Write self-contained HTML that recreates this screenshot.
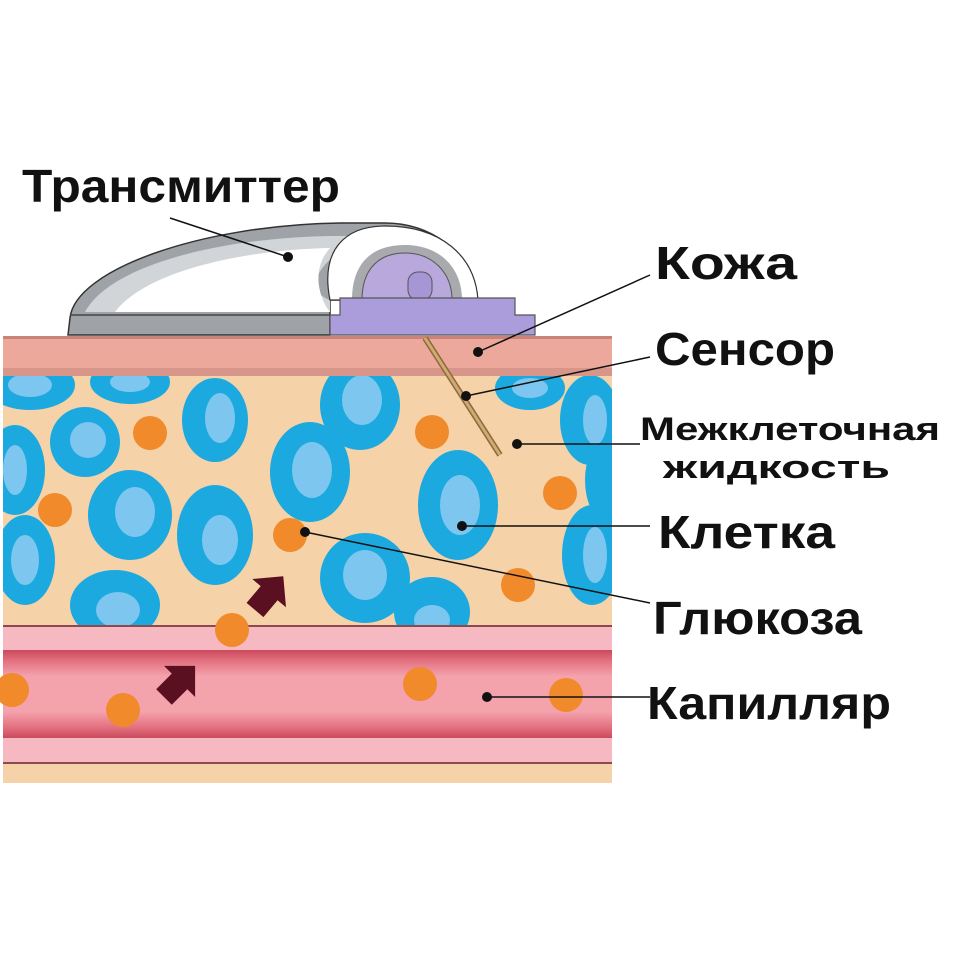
<!DOCTYPE html>
<html><head><meta charset="utf-8"><style>
body{margin:0;background:#fff;width:960px;height:960px;overflow:hidden}
svg{display:block}
text{font-family:"Liberation Sans",sans-serif;font-weight:bold;fill:#111}
</style></head><body>
<svg width="960" height="960" viewBox="0 0 960 960">
<defs>
<linearGradient id="ves" x1="0" y1="0" x2="0" y2="1">
<stop offset="0" stop-color="#c94a5c"/><stop offset="0.12" stop-color="#e3707f"/><stop offset="0.3" stop-color="#f4a3ad"/><stop offset="0.7" stop-color="#f4a3ad"/><stop offset="0.88" stop-color="#e3707f"/><stop offset="1" stop-color="#c94a5c"/></linearGradient>
<clipPath id="cl"><rect x="3" y="375" width="609" height="250"/></clipPath>
</defs>
<rect x="3" y="375" width="609" height="408" fill="#f5d2a8"/>
<g clip-path="url(#cl)">
<g fill="#1ba9e0">
<ellipse cx="30" cy="385" rx="45" ry="25"/><ellipse cx="130" cy="382" rx="40" ry="22"/>
<ellipse cx="215" cy="420" rx="33" ry="42"/><ellipse cx="360" cy="405" rx="40" ry="45"/>
<ellipse cx="530" cy="388" rx="35" ry="22"/><ellipse cx="590" cy="420" rx="30" ry="45"/>
<ellipse cx="85" cy="442" rx="35" ry="35"/><ellipse cx="15" cy="470" rx="30" ry="45"/>
<ellipse cx="310" cy="472" rx="40" ry="50"/><ellipse cx="458" cy="505" rx="40" ry="55"/>
<ellipse cx="605" cy="480" rx="20" ry="40"/><ellipse cx="130" cy="515" rx="42" ry="45"/>
<ellipse cx="215" cy="535" rx="38" ry="50"/><ellipse cx="25" cy="560" rx="30" ry="45"/>
<ellipse cx="365" cy="578" rx="45" ry="45"/><ellipse cx="592" cy="555" rx="30" ry="50"/>
<ellipse cx="115" cy="605" rx="45" ry="35"/><ellipse cx="432" cy="612" rx="38" ry="35"/>
</g>
<g fill="#7cc6ef">
<ellipse cx="30" cy="385" rx="22" ry="12"/><ellipse cx="130" cy="382" rx="20" ry="10"/>
<ellipse cx="220" cy="418" rx="15" ry="25"/><ellipse cx="362" cy="400" rx="20" ry="25"/>
<ellipse cx="530" cy="388" rx="18" ry="10"/><ellipse cx="595" cy="420" rx="12" ry="25"/>
<ellipse cx="88" cy="440" rx="18" ry="18"/><ellipse cx="15" cy="470" rx="12" ry="25"/>
<ellipse cx="312" cy="470" rx="20" ry="28"/><ellipse cx="460" cy="505" rx="20" ry="30"/>
<ellipse cx="135" cy="512" rx="20" ry="25"/><ellipse cx="220" cy="540" rx="18" ry="25"/>
<ellipse cx="25" cy="560" rx="14" ry="25"/><ellipse cx="365" cy="575" rx="22" ry="25"/>
<ellipse cx="595" cy="555" rx="12" ry="28"/><ellipse cx="118" cy="610" rx="22" ry="18"/>
<ellipse cx="432" cy="620" rx="18" ry="15"/>
</g>
</g>
<rect x="3" y="336" width="609" height="40" fill="#eba89b"/>
<rect x="3" y="336" width="609" height="3" fill="#c98378"/>
<rect x="3" y="368" width="609" height="8" fill="#d8958a"/>
<rect x="3" y="625" width="609" height="138" fill="#f7b9c1"/>
<line x1="3" y1="626" x2="612" y2="626" stroke="#8a4a50" stroke-width="2"/>
<rect x="3" y="650" width="609" height="88" fill="url(#ves)"/>
<line x1="3" y1="763" x2="612" y2="763" stroke="#8a4a50" stroke-width="2"/>
<g fill="#f08a2a">
<circle cx="150" cy="433" r="17"/><circle cx="432" cy="432" r="17"/><circle cx="560" cy="493" r="17"/>
<circle cx="55" cy="510" r="17"/><circle cx="290" cy="535" r="17"/><circle cx="518" cy="585" r="17"/>
<circle cx="232" cy="630" r="17"/><circle cx="12" cy="690" r="17"/><circle cx="123" cy="710" r="17"/>
<circle cx="420" cy="684" r="17"/><circle cx="566" cy="695" r="17"/>
</g>
<g fill="#5a1020">
<polygon points="0,-11 22,-11 22,-22 44,0 22,22 22,11 0,11" transform="translate(164,697) rotate(-45)"/>
<polygon points="0,-11 22,-11 22,-22 44,0 22,22 22,11 0,11" transform="translate(255,610) rotate(-50)"/>
</g>
<line x1="425" y1="338" x2="500" y2="455" stroke="#8a6a40" stroke-width="6"/>
<line x1="425" y1="338" x2="500" y2="455" stroke="#d2aa70" stroke-width="3"/>
<path d="M68,335 L70,318 C75,270 200,225 340,223 L385,223 C430,223 470,250 478,300 L330,300 L330,335 Z" fill="#9fa3a8" stroke="#333" stroke-width="1.5"/>
<path d="M85,312 C110,265 220,238 330,236 L380,236 C320,250 300,290 330,300 L330,312 Z" fill="#d2d5d8"/>
<path d="M115,312 C145,272 240,250 330,248 C310,270 320,300 330,312 Z" fill="#fff"/>
<path d="M330,300 C320,250 345,226 385,226 C440,226 475,255 478,300 Z" fill="#fff" stroke="#333" stroke-width="1.2"/>
<path d="M352,300 C352,265 370,245 405,245 C440,245 462,268 462,300 Z" fill="#a8aaae"/>
<path d="M362,300 C362,270 378,253 405,253 C432,253 452,272 452,300 Z" fill="#b8a8dc" stroke="#555" stroke-width="1"/>
<rect x="408" y="272" width="24" height="28" rx="10" fill="#a796d6" stroke="#555" stroke-width="1"/>
<path d="M330,335 L330,315 L340,315 L340,298 L515,298 L515,315 L535,315 L535,335 Z" fill="#ab9ddb" stroke="#555" stroke-width="1.2"/>
<line x1="70" y1="315" x2="330" y2="315" stroke="#444" stroke-width="1.5"/>
<g stroke="#111" stroke-width="1.5" fill="none">
<line x1="170" y1="218" x2="288" y2="257"/>
<line x1="478" y1="352" x2="650" y2="275"/>
<line x1="466" y1="396" x2="650" y2="357"/>
<line x1="517" y1="444" x2="640" y2="444"/>
<line x1="462" y1="526" x2="650" y2="526"/>
<line x1="305" y1="532" x2="650" y2="603"/>
<line x1="487" y1="697" x2="650" y2="697"/>
</g>
<g fill="#111">
<circle cx="288" cy="257" r="5"/><circle cx="478" cy="352" r="5"/><circle cx="466" cy="396" r="5"/>
<circle cx="517" cy="444" r="5"/><circle cx="462" cy="526" r="5"/><circle cx="305" cy="532" r="5"/><circle cx="487" cy="697" r="5"/>
</g>
<text x="22" y="202" font-size="46" textLength="318" lengthAdjust="spacingAndGlyphs">Трансмиттер</text>
<text x="655" y="279" font-size="46" textLength="142" lengthAdjust="spacingAndGlyphs">Кожа</text>
<text x="655" y="365" font-size="46" textLength="180" lengthAdjust="spacingAndGlyphs">Сенсор</text>
<text x="640" y="440" font-size="32" textLength="300" lengthAdjust="spacingAndGlyphs">Межклеточная</text>
<text x="663" y="478" font-size="32" textLength="227" lengthAdjust="spacingAndGlyphs">жидкость</text>
<text x="658" y="548" font-size="46" textLength="177" lengthAdjust="spacingAndGlyphs">Клетка</text>
<text x="653" y="634" font-size="46" textLength="209" lengthAdjust="spacingAndGlyphs">Глюкоза</text>
<text x="647" y="719" font-size="46" textLength="244" lengthAdjust="spacingAndGlyphs">Капилляр</text>
</svg>
</body></html>
